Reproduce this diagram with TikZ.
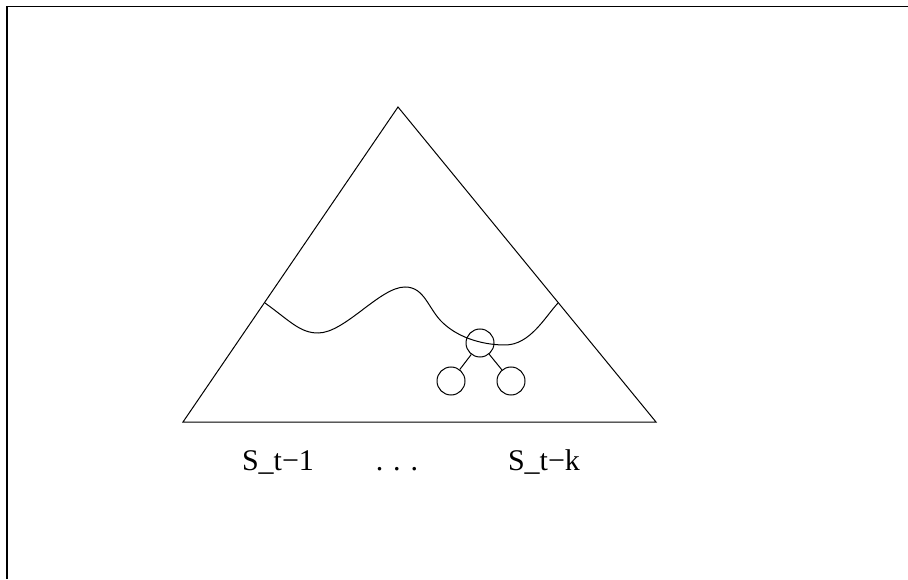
\documentclass[tikz,border=0pt]{standalone}
\usepackage{fontspec}
\setmainfont{Liberation Serif}
\begin{document}
\begin{tikzpicture}[x=1pt,y=1pt,line width=1pt,
  sub/.style={circle,draw,minimum size=28pt,inner sep=0pt},
  lbl/.style={anchor=base,font=\fontsize{30}{36}\selectfont}]
\useasboundingbox (0,0) rectangle (908,579);
% frame
\draw[line width=1.6pt] (7,0) -- (7,572.5) -- (908,572.5);
% triangle
\coordinate (apex) at (398,472);
\coordinate (bl) at (183,157);
\coordinate (br) at (656,157);
\draw (bl) -- (apex) -- (br) -- cycle;
% wave
\draw (265,276) .. controls (290,258) and (300,246) .. (318,246)
  .. controls (345,246) and (380,292) .. (405,292)
  .. controls (425,292) and (428,270) .. (443,256)
  .. controls (460,240) and (485,234) .. (505,234)
  .. controls (530,234) and (545,262) .. (558,276);
% small tree
\node[sub] (r) at (480,236) {};
\node[sub] (c1) at (451,198) {};
\node[sub] (c2) at (511,198) {};
\draw (r) -- (c1);
\draw (r) -- (c2);
% labels
\node[lbl] (s1) at (278,109) {S\_t−1};
\node[lbl] (dots) at (397,109) {. . .};
\node[lbl] (sk) at (544,109) {S\_t−k};
\end{tikzpicture}
\end{document}
